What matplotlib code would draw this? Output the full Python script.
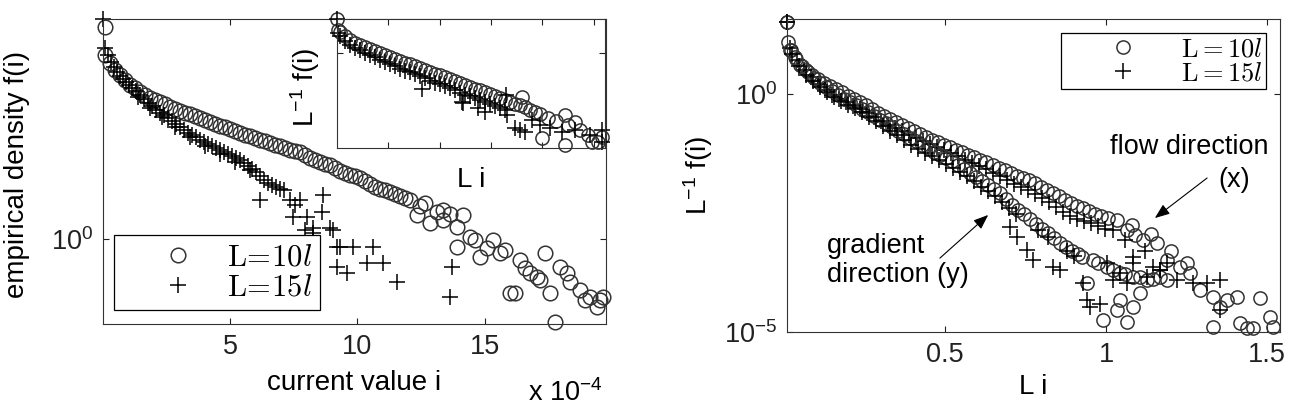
import numpy as np
import matplotlib
matplotlib.use("Agg")
from matplotlib import pyplot as plt

plt.rcParams["font.family"] = ["Liberation Sans", "DejaVu Sans"]
plt.rcParams["mathtext.fontset"] = "custom"
plt.rcParams["mathtext.rm"] = "Liberation Sans"
plt.rcParams["mathtext.it"] = "Liberation Sans:italic"

# ---- left panel: current value i (units of 1e-4), log10 of density f(i)
cur_10l = [0.10, 0.10, 0.29, 0.49, 0.69, 0.88, 1.08, 1.27, 1.47, 1.67, 1.86, 2.06, 2.25,
           2.45, 2.65, 2.84, 3.04, 3.24, 3.43, 3.63, 3.82, 4.02, 4.22, 4.41, 4.61, 4.80,
           5.00, 5.20, 5.39, 5.59, 5.78, 5.98, 6.18, 6.37, 6.57, 6.76, 6.96, 7.16, 7.35,
           7.55, 7.75, 7.94, 8.14, 8.33, 8.53, 8.73, 8.92, 9.12, 9.31, 9.51, 9.71, 9.90,
           10.10, 10.29, 10.49, 10.69, 10.88, 11.08, 11.27, 11.47, 11.67, 11.86, 12.06,
           12.33, 12.45, 12.65, 12.84, 13.12, 13.35, 13.35, 13.63, 13.90, 14.14, 14.41,
           14.61, 13.90, 14.80, 15.08, 15.31, 15.59, 15.78, 15.98, 16.18, 16.37, 16.57,
           16.76, 17.04, 17.16, 17.35, 17.55, 17.75, 17.94, 18.22, 18.33, 18.73, 18.92,
           19.12, 19.39, 19.51, 19.63]
logf_10l = [0.707, 0.613, 0.587, 0.563, 0.547, 0.530, 0.513, 0.503, 0.490, 0.480, 0.470, 0.463, 0.457,
            0.450, 0.440, 0.433, 0.427, 0.420, 0.417, 0.410, 0.403, 0.397, 0.390, 0.383, 0.377, 0.373,
            0.367, 0.360, 0.353, 0.347, 0.343, 0.337, 0.330, 0.327, 0.320, 0.313, 0.310, 0.303, 0.297,
            0.293, 0.290, 0.280, 0.270, 0.263, 0.257, 0.250, 0.247, 0.237, 0.227, 0.220, 0.213, 0.210,
            0.203, 0.193, 0.183, 0.173, 0.167, 0.163, 0.157, 0.150, 0.143, 0.137, 0.130,
            0.080, 0.110, 0.120, 0.053, 0.090, 0.063, 0.097, 0.083, 0.040, 0.080, 0.007,
            -0.003, -0.027, -0.060, -0.030, -0.003, -0.047, -0.037, -0.180, -0.180, -0.070, -0.097,
            -0.113, -0.127, -0.137, -0.047, -0.180, -0.277, -0.093, -0.113, -0.143, -0.170, -0.203,
            -0.193, -0.227, -0.203, -0.193]

cur_15l = [0.02, 0.10, 0.22, 0.33, 0.45, 0.57, 0.69, 0.80, 0.92, 1.04, 1.16, 1.31, 1.47,
           1.63, 1.78, 1.94, 2.10, 2.25, 2.41, 2.57, 2.73, 2.88, 3.04, 3.20, 3.35, 3.51,
           3.67, 3.82, 3.98, 4.14, 4.29, 4.45, 4.61, 4.76, 4.92, 5.08, 5.24, 5.39, 5.55,
           5.71, 5.86, 6.02, 6.18, 6.33, 6.49, 6.65, 6.80, 6.96, 7.12,
           1.39, 1.86, 2.33, 2.84, 3.43, 4.02, 4.61, 5.20, 5.78,
           6.18, 7.35, 7.55, 7.75, 7.94, 8.02, 8.25, 8.61, 8.65, 8.92, 7.47, 8.25, 9.04,
           9.31, 9.20, 9.20, 9.59, 9.82, 10.37, 10.61, 11.00, 11.55, 13.63, 13.71]
logf_15l = [0.733, 0.637, 0.613, 0.590, 0.573, 0.557, 0.543, 0.533, 0.523, 0.513, 0.503, 0.493, 0.480,
            0.467, 0.453, 0.443, 0.430, 0.420, 0.413, 0.403, 0.393, 0.383, 0.373, 0.363, 0.353, 0.347,
            0.340, 0.330, 0.323, 0.317, 0.310, 0.303, 0.297, 0.290, 0.283, 0.277, 0.270, 0.263, 0.253,
            0.243, 0.233, 0.223, 0.210, 0.197, 0.187, 0.180, 0.173, 0.167, 0.163,
            0.473, 0.437, 0.407, 0.373, 0.340, 0.310, 0.283, 0.257, 0.230,
            0.130, 0.130, 0.113, 0.130, 0.030, 0.073, 0.037, 0.090, 0.147, 0.037, 0.073, 0.020, 0.030,
            -0.027, -0.027, -0.093, -0.113, -0.027, -0.080, -0.027, -0.080, -0.143, -0.193, -0.093]

# ---- inset: L i, log10 of L^-1 f(i)
in_x_10l = [0.00, 0.02, 0.06, 0.16, 0.25, 0.35, 0.45, 0.55, 0.64, 0.74, 0.84, 0.94, 1.03, 1.13,
            1.23, 1.33, 1.42, 1.52, 1.62, 1.72, 1.81, 1.91, 2.01, 2.11, 2.20, 2.30, 2.40, 2.50,
            2.59, 2.69, 2.79, 2.88, 2.98, 3.08, 3.18, 3.27, 3.37, 3.47, 3.57, 3.66, 3.76, 3.86,
            3.96, 3.61, 4.00, 4.11, 4.27, 4.44, 4.50, 4.44, 4.64, 4.74, 4.89, 4.97, 5.09, 5.17]
in_logf_10l = [0.34, 0.23, 0.21, 0.17, 0.13, 0.10, 0.08, 0.06, 0.04, 0.02, 0.00, -0.02, -0.04, -0.06,
               -0.08, -0.10, -0.11, -0.13, -0.15, -0.17, -0.19, -0.21, -0.22, -0.24, -0.26, -0.28, -0.30, -0.32,
               -0.34, -0.36, -0.37, -0.39, -0.41, -0.43, -0.45, -0.47, -0.49, -0.51, -0.52, -0.54, -0.57, -0.59,
               -0.61, -0.44, -0.85, -0.65, -0.68, -0.62, -0.72, -0.92, -0.69, -0.77, -0.82, -0.89, -0.89, -0.84]
in_x_15l = [0.00, 0.02, 0.06, 0.16, 0.25, 0.35, 0.45, 0.55, 0.64, 0.74, 0.84, 0.94, 1.03, 1.13,
            1.23, 1.33, 1.42, 1.52, 1.62, 1.72, 1.81, 1.91, 2.01, 2.11, 2.20, 2.30, 2.40, 2.50,
            2.59, 2.69, 2.79, 2.88, 2.98, 3.08, 3.18, 3.27, 1.66, 2.44, 2.45, 2.75, 2.89, 3.29,
            3.31, 3.47, 3.57, 3.66, 3.80, 3.96, 4.15, 4.39, 4.64, 4.93, 5.17, 5.17]
in_logf_15l = [0.34, 0.20, 0.17, 0.12, 0.08, 0.05, 0.03, 0.00, -0.02, -0.04, -0.07, -0.09, -0.11, -0.13,
               -0.16, -0.18, -0.19, -0.21, -0.23, -0.25, -0.28, -0.30, -0.31, -0.33, -0.35, -0.37, -0.40, -0.42,
               -0.43, -0.45, -0.47, -0.49, -0.51, -0.53, -0.55, -0.57, -0.36, -0.49, -0.50, -0.55, -0.59, -0.42,
               -0.62, -0.75, -0.77, -0.79, -0.67, -0.72, -0.75, -0.79, -0.77, -0.82, -0.77, -0.89]

# ---- right panel: L i, log10 of L^-1 f(i); flow (x) and gradient (y) directions
flow_x_10l = [0.009, 0.012, 0.022, 0.034, 0.050, 0.068, 0.087, 0.106, 0.124, 0.143, 0.161, 0.180,
              0.199, 0.217, 0.236, 0.255, 0.273, 0.292, 0.311, 0.329, 0.348, 0.366, 0.385, 0.404,
              0.422, 0.441, 0.460, 0.478, 0.497, 0.516, 0.534, 0.553, 0.571, 0.590, 0.609, 0.627,
              0.649, 0.668, 0.686, 0.705, 0.724, 0.742, 0.761, 0.780, 0.798, 0.817, 0.835, 0.854,
              0.873, 0.891, 0.910, 0.929, 0.947, 0.966, 0.984, 1.006, 1.034, 1.065, 1.080, 1.090,
              1.115, 1.140, 1.158, 1.189, 1.200, 1.230, 1.250, 1.261, 1.292, 1.332, 1.354, 1.376,
              1.407, 1.416, 1.332, 1.438, 1.457, 1.478, 1.509, 1.519]
flow_logf_10l = [1.513, 1.092, 0.924, 0.777, 0.609, 0.504, 0.399, 0.315, 0.231, 0.168, 0.105, 0.042,
                 -0.042, -0.105, -0.168, -0.231, -0.315, -0.399, -0.462, -0.525, -0.588, -0.651, -0.714, -0.777,
                 -0.840, -0.903, -0.966, -1.008, -1.071, -1.113, -1.176, -1.218, -1.282, -1.324, -1.387, -1.429,
                 -1.492, -1.555, -1.597, -1.660, -1.723, -1.765, -1.807, -1.870, -1.954, -2.017, -2.080, -2.143,
                 -2.227, -2.290, -2.353, -2.395, -2.458, -2.521, -2.563, -2.605, -2.647, -2.857, -2.750, -2.962,
                 -3.067, -2.950, -3.130, -3.487, -3.300, -3.634, -3.550, -3.761, -4.118, -4.265, -4.475, -4.328,
                 -4.265, -4.811, -4.895, -4.916, -4.916, -4.286, -4.685, -4.895]
flow_x_15l = [0.009, 0.019, 0.040, 0.062, 0.084, 0.106, 0.127, 0.149, 0.171, 0.193, 0.214, 0.236,
              0.258, 0.280, 0.301, 0.323, 0.345, 0.366, 0.388, 0.410, 0.432, 0.453, 0.475, 0.497,
              0.519, 0.540, 0.562, 0.584, 0.606, 0.627, 0.649, 0.671, 0.693, 0.714, 0.736, 0.758,
              0.780, 0.801, 0.823, 0.845, 0.866, 0.888, 0.910, 0.932, 0.953, 0.975, 0.997, 1.022,
              1.060, 1.084, 1.120, 1.146, 1.168, 1.190, 1.220, 1.270, 1.314, 1.354, 1.354]
flow_logf_15l = [1.513, 0.966, 0.714, 0.504, 0.357, 0.210, 0.084, -0.021, -0.105, -0.168, -0.252, -0.315,
                 -0.399, -0.483, -0.567, -0.651, -0.714, -0.777, -0.861, -0.924, -0.987, -1.050, -1.113, -1.176,
                 -1.239, -1.303, -1.387, -1.450, -1.513, -1.576, -1.660, -1.723, -1.807, -1.891, -1.954, -2.017,
                 -2.101, -2.185, -2.269, -2.374, -2.479, -2.563, -2.626, -2.668, -2.710, -2.773, -2.836, -2.857,
                 -3.070, -3.424, -3.300, -3.634, -3.697, -3.550, -3.908, -3.971, -3.971, -3.908, -4.538]
grad_x_10l = [0.009, 0.019, 0.037, 0.056, 0.075, 0.093, 0.112, 0.130, 0.149, 0.168, 0.186, 0.205,
              0.224, 0.242, 0.261, 0.280, 0.298, 0.317, 0.335, 0.354, 0.373, 0.391, 0.410, 0.429,
              0.447, 0.466, 0.484, 0.503, 0.522, 0.540, 0.559, 0.578, 0.596, 0.615, 0.634, 0.652,
              0.671, 0.689, 0.708, 0.727, 0.745, 0.764, 0.783, 0.801, 0.820, 0.839, 0.857, 0.876,
              0.894, 0.913, 0.925, 0.941, 0.960, 0.975, 0.991, 1.003, 1.020, 1.034, 1.043, 1.043,
              1.060, 1.065, 1.084, 1.084, 1.105, 1.106, 1.127, 1.145, 1.168, 1.189]
grad_logf_10l = [1.513, 0.924, 0.735, 0.588, 0.462, 0.336, 0.231, 0.147, 0.063, -0.021, -0.105, -0.168,
                 -0.231, -0.315, -0.378, -0.462, -0.546, -0.609, -0.693, -0.777, -0.840, -0.924, -0.987, -1.071,
                 -1.134, -1.218, -1.282, -1.345, -1.408, -1.492, -1.576, -1.660, -1.744, -1.828, -1.912, -1.996,
                 -2.080, -2.206, -2.332, -2.437, -2.521, -2.626, -2.731, -2.836, -2.920, -3.025, -3.130, -3.214,
                 -3.298, -3.361, -3.420, -3.971, -3.487, -3.560, -4.748, -3.634, -3.700, -4.538, -3.761, -4.328,
                 -3.790, -4.790, -3.845, -4.475, -3.850, -4.181, -3.908, -3.880, -3.845, -3.908]
grad_x_15l = [0.009, 0.025, 0.047, 0.068, 0.090, 0.112, 0.134, 0.155, 0.177, 0.199, 0.220, 0.242,
              0.264, 0.286, 0.307, 0.329, 0.351, 0.373, 0.394, 0.416, 0.438, 0.460, 0.481, 0.503,
              0.525, 0.547, 0.568, 0.590, 0.612, 0.634, 0.655, 0.677, 0.699, 0.720, 0.702, 0.724,
              0.755, 0.773, 0.790, 0.820, 0.835, 0.857, 0.880, 0.900, 0.929, 0.941, 0.950, 0.981,
              1.003, 1.022, 1.043, 1.065, 1.084, 1.127, 1.168]
grad_logf_15l = [1.513, 0.840, 0.588, 0.399, 0.273, 0.147, 0.042, -0.063, -0.147, -0.231, -0.294, -0.378,
                 -0.483, -0.567, -0.672, -0.777, -0.861, -0.966, -1.071, -1.155, -1.239, -1.303, -1.387, -1.471,
                 -1.555, -1.639, -1.723, -1.828, -1.954, -2.038, -2.143, -2.269, -2.395, -2.521, -2.794, -2.996,
                 -3.277, -3.487, -2.850, -3.000, -3.634, -3.697, -3.300, -3.400, -3.971, -4.328, -4.475, -4.412,
                 -3.550, -3.908, -3.761, -3.971, -3.550, -3.845, -3.697]

circ = dict(linestyle="none", marker="o", markerfacecolor="none", markeredgecolor="#333333",
            markeredgewidth=1.1, clip_on=False)
plus = dict(linestyle="none", marker="+", color="black", markeredgewidth=1.1, clip_on=False)


def matlab_axes(ax):
    ax.minorticks_off()
    ax.tick_params(which="both", direction="in", top=True, right=True, length=4,
                   width=0.8, colors="#222222", labelsize=19.5, pad=7)
    for s in ax.spines.values():
        s.set_linewidth(0.8)
        s.set_color("#333333")


fig = plt.figure(figsize=(12.96, 4.07), dpi=100)
ax1 = fig.add_axes([0.0795, 0.2039, 0.3881, 0.7494])
axin = fig.add_axes([0.2600, 0.6364, 0.2068, 0.3170])
ax2 = fig.add_axes([0.6073, 0.1843, 0.3804, 0.7690])

# left panel
ax1.plot(cur_10l, 10.0 ** np.array(logf_10l), markersize=10.5, label=r"$\mathrm{L}\!=\!10l$", **circ)
ax1.plot(cur_15l, 10.0 ** np.array(logf_15l), markersize=12, label=r"$\mathrm{L}\!=\!15l$", **plus)
ax1.set_yscale("log")
ax1.set_xlim(0.02, 19.75)
ax1.set_ylim(10 ** -0.283, 10 ** 0.733)
ax1.set_xticks([5, 10, 15])
ax1.set_yticks([1])
matlab_axes(ax1)
ax1.set_ylabel("empirical density f(i)", fontsize=20)
ax1.yaxis.set_label_coords(-0.171, 0.49)
ax1.yaxis.label.set_va("center")
ax1.set_xlabel("current value i", fontsize=20)
ax1.xaxis.set_label_coords(0.5, -0.193)
ax1.xaxis.label.set_va("center")
fig.text(0.465, 0.034, r"x 10$^{-4}$", ha="right", va="center", fontsize=19.5)

leg1 = ax1.legend(loc="lower left", bbox_to_anchor=(0.022, 0.046), borderaxespad=0,
                  fontsize=22, fancybox=False, edgecolor="black", framealpha=1,
                  handlelength=3.7, handletextpad=-0.25, borderpad=0.25, labelspacing=0.0,
                  numpoints=1)
leg1.get_frame().set_linewidth(0.9)
for t in leg1.get_texts():
    t.set_math_fontfamily("cm")

# inset
axin.plot(in_x_10l, 10.0 ** np.array(in_logf_10l), markersize=9.5, **circ)
axin.plot(in_x_15l, 10.0 ** np.array(in_logf_15l), markersize=11, **plus)
axin.set_yscale("log")
axin.set_xlim(0, 5.22)
axin.set_ylim(10 ** -0.95, 10 ** 0.34)
axin.set_xticks([1, 2, 3, 4, 5])
axin.set_yticks([1])
matlab_axes(axin)
axin.set_xticklabels([])
axin.set_yticklabels([])
axin.set_ylabel(r"L$^{-1}$ f(i)", fontsize=20)
axin.yaxis.set_label_coords(-0.12, 0.47)
axin.yaxis.label.set_va("center")
axin.set_xlabel("L i", fontsize=20)
axin.xaxis.set_label_coords(0.5, -0.248)
axin.xaxis.label.set_va("center")

# right panel
ax2.plot(flow_x_10l, 10.0 ** np.array(flow_logf_10l), markersize=9.5, label=r"$\mathrm{L} = 10l$", **circ)
ax2.plot(flow_x_15l, 10.0 ** np.array(flow_logf_15l), markersize=11, label=r"$\mathrm{L} = 15l$", **plus)
ax2.plot(grad_x_10l, 10.0 ** np.array(grad_logf_10l), markersize=9.5, **circ)
ax2.plot(grad_x_15l, 10.0 ** np.array(grad_logf_15l), markersize=11, **plus)
ax2.set_yscale("log")
ax2.set_xlim(0.01, 1.54)
ax2.set_ylim(1e-5, 10 ** 1.576)
ax2.set_xticks([0.5, 1, 1.5])
ax2.set_xticklabels(["0.5", "1", "1.5"])
ax2.set_yticks([1e-5, 1])
matlab_axes(ax2)
ax2.set_ylabel(r"L$^{-1}$ f(i)", fontsize=20)
ax2.yaxis.set_label_coords(-0.18, 0.5)
ax2.yaxis.label.set_va("center")
ax2.set_xlabel("L i", fontsize=20)
ax2.xaxis.set_label_coords(0.5, -0.176)
ax2.xaxis.label.set_va("center")

leg2 = ax2.legend(loc="upper right", bbox_to_anchor=(0.972, 0.955), borderaxespad=0,
                  fontsize=19, fancybox=False, edgecolor="black", framealpha=1,
                  handlelength=4.4, handletextpad=0.0, borderpad=0.15, labelspacing=0.0,
                  numpoints=1)
leg2.get_frame().set_linewidth(0.9)
for t in leg2.get_texts():
    t.set_math_fontfamily("cm")

arrow = dict(arrowstyle="-|>,head_length=0.9,head_width=0.35", color="black", lw=0.8,
             shrinkA=0, shrinkB=0)
ax2.annotate("", xy=(0.746, 0.364), xytext=(0.852, 0.492), xycoords="axes fraction",
             arrowprops=arrow)
ax2.text(0.815, 0.591, "flow direction", transform=ax2.transAxes, ha="center",
         va="center", fontsize=19.5)
ax2.text(0.907, 0.486, "(x)", transform=ax2.transAxes, ha="center", va="center", fontsize=19.5)
ax2.annotate("", xy=(0.408, 0.374), xytext=(0.310, 0.236), xycoords="axes fraction",
             arrowprops=arrow)
ax2.text(0.081, 0.227, "gradient\ndirection (y)", transform=ax2.transAxes, ha="left",
         va="center", fontsize=19.5, linespacing=1.15)

fig.savefig("out.png", dpi=100, facecolor="white")
